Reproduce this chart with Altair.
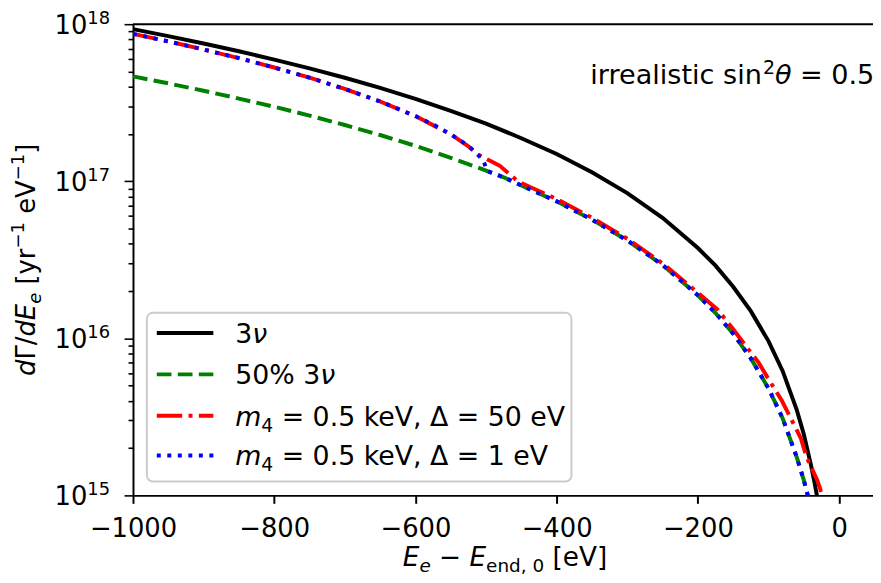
import altair as alt
import pandas as pd

# ---------------- data ----------------
E_3nu = [-1000, -950, -900, -850, -800, -750, -700, -650, -600, -550, -500, -450,
         -400, -350, -300, -250, -200, -175, -150, -125, -100, -80, -60, -50, -40,
         -35, -30, -25]
R_3nu = [9.30e17, 8.39e17, 7.53e17, 6.72e17, 5.95e17, 5.23e17, 4.56e17, 3.93e17,
         3.35e17, 2.81e17, 2.33e17, 1.88e17, 1.49e17, 1.14e17, 8.40e16, 5.85e16,
         3.76e16, 2.90e16, 2.13e16, 1.49e16, 9.60e15, 6.20e15, 3.50e15, 2.45e15,
         1.57e15, 1.22e15, 9.20e14, 6.40e14]

E_half = [-1000, -950, -900, -850, -800, -750, -700, -650, -600, -550, -500, -475,
          -450, -400, -350, -300, -250, -200, -175, -150, -125, -100, -80, -60,
          -50, -40]
R_half = [4.65e17, 4.20e17, 3.77e17, 3.36e17, 2.98e17, 2.62e17, 2.28e17, 1.97e17,
          1.68e17, 1.41e17, 1.17e17, 1.06e17, 9.40e16, 7.45e16, 5.70e16, 4.20e16,
          2.93e16, 1.88e16, 1.45e16, 1.07e16, 7.45e15, 4.80e15, 3.10e15, 1.75e15,
          1.25e15, 8.40e14]

E_d50 = [-1000, -950, -900, -850, -800, -750, -700, -650, -600, -550, -525, -510,
         -500, -490, -480, -455, -440, -400, -350, -300, -250, -200, -172, -151,
         -135, -114, -100, -81, -70, -54, -46, -31, -27, -22]
R_d50 = [8.68e17, 7.77e17, 6.90e17, 6.08e17, 5.30e17, 4.57e17, 3.87e17, 3.22e17,
         2.60e17, 1.99e17, 1.67e17, 1.47e17, 1.39e17, 1.32e17, 1.25e17, 1.00e17,
         9.30e16, 7.70e16, 5.85e16, 4.30e16, 3.00e16, 1.95e16, 1.52e16, 1.16e16,
         9.30e15, 7.00e15, 5.50e15, 4.00e15, 3.20e15, 2.30e15, 1.75e15, 1.25e15,
         1.11e15, 9.00e14]

E_d1 = [-1000, -950, -900, -850, -800, -750, -700, -650, -600, -575, -550, -530,
        -520, -510, -505, -502, -501, -500, -475, -450, -400, -350, -300, -250,
        -200, -175, -150, -125, -100, -80, -60, -50, -40]
R_d1 = [8.68e17, 7.77e17, 6.90e17, 6.08e17, 5.30e17, 4.57e17, 3.87e17, 3.22e17,
        2.60e17, 2.30e17, 1.99e17, 1.74e17, 1.60e17, 1.45e17, 1.37e17, 1.29e17,
        1.24e17, 1.17e17, 1.06e17, 9.40e16, 7.45e16, 5.70e16, 4.20e16, 2.93e16,
        1.88e16, 1.45e16, 1.07e16, 7.45e15, 4.80e15, 3.10e15, 1.75e15, 1.25e15,
        8.40e14]

x_ticks = [-1000, -800, -600, -400, -200, 0]
y_decades = [10**15, 10**16, 10**17, 10**18]
y_exponents = ["15", "16", "17", "18"]
y_minor = [k * 10**e for e in (15, 16, 17) for k in range(2, 10)]

legend_rows = [
    [("3", "n"), ("ν", "i")],
    [("50% 3", "n"), ("ν", "i")],
    [("m", "i"), ("4", "sub"), (" = 0.5 keV, Δ = 50 eV", "n")],
    [("m", "i"), ("4", "sub"), (" = 0.5 keV, Δ = 1 eV", "n")],
]
legend_colors = ["black", "green", "red", "blue"]

# ---------------- layout ----------------
W, H = 746, 475
FONT = "DejaVu Sans"
LW = 4
DASH = {"black": None, "green": [14.8, 6.4], "red": [25.6, 6.4, 4, 6.4], "blue": [4, 6.6]}

xs = alt.Scale(domain=[-1000, 48], nice=False, zero=False)
ys = alt.Scale(type="log", domain=[1e15, 1e18], nice=False)

XA = alt.Axis(values=x_ticks, title=None, grid=False, tickSize=8, tickWidth=2, format="d",
              tickColor="black", domainColor="black", domainWidth=2,
              labelFont=FONT, labelFontSize=26, labelColor="black",
              labelPadding=12, labelFlush=False, labelOverlap=False)
YA = alt.Axis(values=y_decades + y_minor, title=None, grid=False, labels=False,
              tickSize={"condition": {"test": "datum.value == 1e15 || datum.value == 1e16 || datum.value == 1e17 || datum.value == 1e18", "value": 9}, "value": 5},
              tickWidth=1.6, tickColor="black", domainColor="black", domainWidth=2)

ADV = {" ": .318, ".": .318, ",": .318, "%": .950, "[": .390, "]": .390, "/": .337,
       "−": .838, "=": .838, "a": .613, "c": .550, "d": .635, "e": .615, "i": .278,
       "k": .579, "l": .278, "m": .974, "n": .634, "r": .411, "s": .521, "t": .392,
       "y": .592, "E": .632, "V": .684, "Γ": .557, "Δ": .684, "θ": .602, "ν": .592}


def adv(s, size):
    return sum(ADV.get(c, .636) for c in s) * size


def rich(parts, x, y, fs, align="left", angle=0):
    small = ("sub", "subi", "sup")
    sizes = [fs * 0.7 if k in small else fs for _, k in parts]
    widths = [adv(t, s) for (t, _), s in zip(parts, sizes)]
    total = sum(widths)
    start = {"left": 0, "center": -total / 2, "right": -total}[align]
    layers = []
    off = start
    for (t, k), s, w in zip(parts, sizes, widths):
        shift = {"sub": 0.23 * fs, "subi": 0.23 * fs, "sup": -0.40 * fs}.get(k, 0)
        lead = len(t) - len(t.lstrip(" "))
        txt = t.strip(" ")
        o = off + lead * ADV[" "] * s
        if angle == 270:
            px, py = x + shift, y - o
        else:
            px, py = x + o, y + shift
        layers.append(
            alt.Chart(pd.DataFrame({"t": [txt]}))
            .mark_text(align="left", baseline="alphabetic", font=FONT, fontSize=s,
                       fontStyle="italic" if k in ("i", "subi") else "normal",
                       color="black", angle=angle)
            .encode(x=alt.value(px), y=alt.value(py), text="t:N")
        )
        off += w
    return layers


def line(E, R, color):
    df = pd.DataFrame({"E": E, "R": R})
    kw = dict(color=color, strokeWidth=LW, clip=True)
    if DASH[color]:
        kw["strokeDash"] = DASH[color]
    return alt.Chart(df).mark_line(**kw).encode(
        x=alt.X("E:Q", scale=xs, axis=XA),
        y=alt.Y("R:Q", scale=ys, axis=YA),
    )


layers = []
layers.append(line(E_3nu, R_3nu, "black"))
layers.append(line(E_half, R_half, "green"))
layers.append(line(E_d50, R_d50, "red"))
layers.append(line(E_d1, R_d1, "blue"))

# top spine
layers.append(alt.Chart(pd.DataFrame({"a": [0]})).mark_rule(color="black", strokeWidth=2)
              .encode(x=alt.value(0), x2=alt.value(W), y=alt.value(0)))

# y tick labels 10^n
ylab = pd.DataFrame({"R": y_decades, "b": ["10"] * 4, "e": y_exponents})
layers.append(alt.Chart(ylab).mark_text(align="right", baseline="alphabetic", font=FONT,
                                         fontSize=26, dy=9.5, color="black")
              .encode(x=alt.value(-46), y=alt.Y("R:Q", scale=ys, axis=YA), text="b:N"))
layers.append(alt.Chart(ylab).mark_text(align="left", baseline="alphabetic", font=FONT,
                                         fontSize=18, dy=-0.5, color="black")
              .encode(x=alt.value(-46), y=alt.Y("R:Q", scale=ys, axis=YA), text="e:N"))

# legend
layers.append(alt.Chart(pd.DataFrame({"a": [0]}))
              .mark_rect(fill="white", fillOpacity=0.8, stroke="#cccccc", strokeWidth=2,
                         cornerRadius=6)
              .encode(x=alt.value(14), x2=alt.value(442), y=alt.value(291), y2=alt.value(461)))
row_y = [311.3, 353.0, 394.7, 434.7]
for parts, col, ry in zip(legend_rows, legend_colors, row_y):
    kw = dict(color=col, strokeWidth=LW)
    if DASH[col]:
        kw["strokeDash"] = DASH[col]
    layers.append(alt.Chart(pd.DataFrame({"a": [0]})).mark_rule(**kw)
                  .encode(x=alt.value(24), x2=alt.value(81), y=alt.value(ry)))
    layers += rich(parts, 103, ry + 10, 27)

# annotation
layers += rich([("irrealistic sin", "n"), ("2", "sup"), ("θ", "i"), (" = 0.5", "n")],
               461, 60.7, 27.3, align="left")

# axis titles
layers += rich([("E", "i"), ("e", "subi"), (" − ", "n"), ("E", "i"), ("end, 0", "sub"),
                (" [eV]", "n")], W / 2 + 2, 546, 26.5, align="center")
layers += rich([("d", "i"), ("Γ", "n"), ("/", "n"), ("d", "i"), ("E", "i"), ("e", "subi"),
                (" [yr", "n"), ("−1", "sup"), (" eV", "n"), ("−1", "sup"), ("]", "n")],
               -99, H / 2, 26, align="center", angle=270)

chart = (
    alt.layer(*layers)
    .properties(width=W, height=H, autosize=alt.AutoSizeParams(type="none"),
                padding={"left": 126, "top": 14, "right": 0, "bottom": 86})
    .configure_view(stroke=None)
)

chart.save("out.html", embed_options={"renderer": "svg", "actions": False})
